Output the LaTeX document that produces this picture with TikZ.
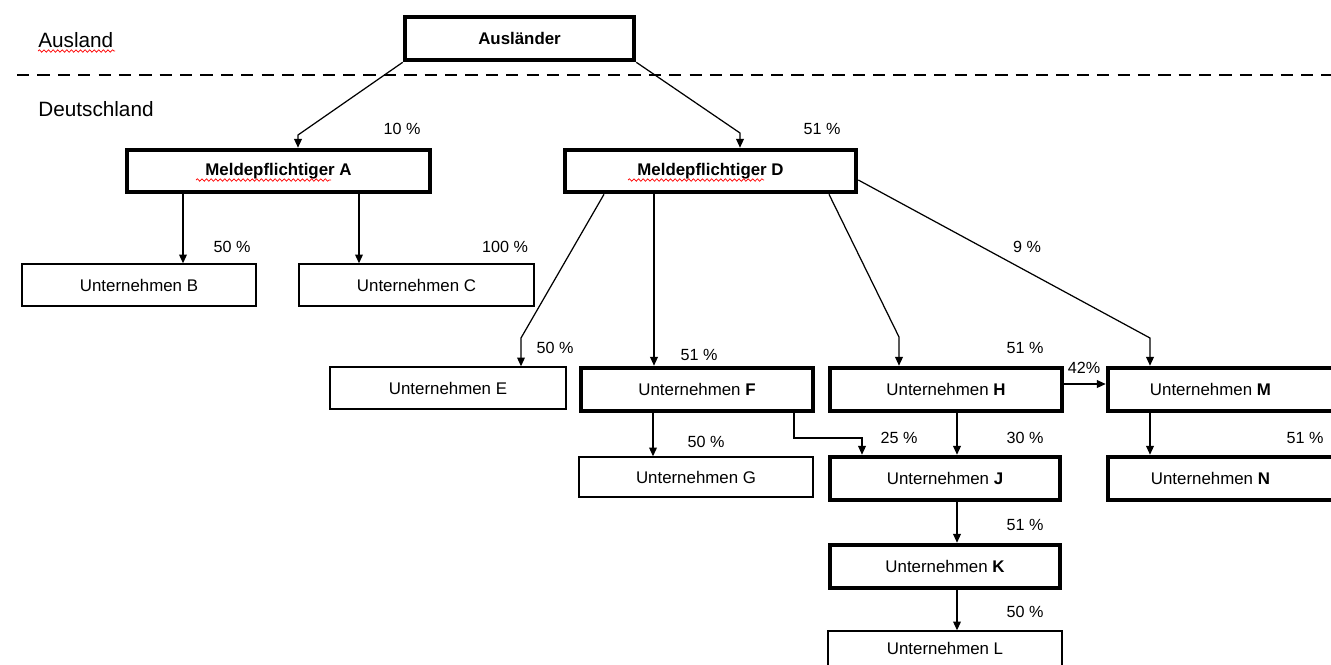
\documentclass[tikz,border=0pt]{standalone}
\usepackage{fontspec}
\setmainfont{Liberation Sans}
\usetikzlibrary{arrows.meta,decorations.pathmorphing}
\begin{document}
\begin{tikzpicture}[x=0.02cm,y=-0.02cm,
  thickbox/.style={draw,line width=2.6pt,rectangle,inner sep=0pt,font=\fontsize{9.6}{11}\selectfont},
  thinbox/.style={draw,line width=0.8pt,rectangle,inner sep=0pt,font=\fontsize{9.6}{11}\selectfont},
  arr/.style={line width=0.7pt,-{Triangle[length=5pt,width=4.4pt]}},
  pct/.style={inner sep=0pt,font=\fontsize{9.2}{11}\selectfont},
  region/.style={inner sep=0pt,anchor=west,font=\fontsize{11.8}{13}\selectfont},
  squig/.style={red,line width=0.4pt,decorate,decoration={snake,amplitude=0.7pt,segment length=2.6pt}}]
\useasboundingbox (0,0) rectangle (1331,664);
\clip (0,0) rectangle (1331,664);
% regions
\node[region] (ausland) at (38,40) {Ausland};
\node[region] (deutsch) at (38,109) {Deutschland};
\draw[line width=1.1pt,dash pattern=on 7pt off 4.6pt] (17,75) -- (1331,75);
\draw[squig] (38,51) -- (115,51);
% boxes
\node[thickbox,minimum width=229*0.02cm,minimum height=43*0.02cm] (Ausl) at (519.5,38.5) {\bfseries Ausländer};
\node[thickbox,minimum width=303*0.02cm,minimum height=42*0.02cm] (MA) at (278.5,171) {\bfseries Meldepflichtiger A};
\node[thickbox,minimum width=291*0.02cm,minimum height=42*0.02cm] (MD) at (710.5,171) {\bfseries Meldepflichtiger D};
\draw[squig] (196,180) -- (331,180);
\draw[squig] (628,180) -- (764,180);
\node[thinbox,minimum width=234*0.02cm,minimum height=42*0.02cm] (B) at (139,285) {Unternehmen B};
\node[thinbox,minimum width=235*0.02cm,minimum height=42*0.02cm] (C) at (416.5,285) {Unternehmen C};
\node[thinbox,minimum width=236*0.02cm,minimum height=42*0.02cm] (E) at (448,388) {Unternehmen E};
\node[thickbox,minimum width=232*0.02cm,minimum height=43*0.02cm] (F) at (697,389.5) {Unternehmen \textbf{F}};
\node[thickbox,minimum width=232*0.02cm,minimum height=43*0.02cm] (H) at (946,389.5) {Unternehmen \textbf{H}};
\node[thickbox,minimum width=240*0.02cm,minimum height=43*0.02cm] (M) at (1228,389.5) {\hspace*{-20pt}Unternehmen \textbf{M}};
\node[thinbox,minimum width=234*0.02cm,minimum height=40*0.02cm] (G) at (696,477) {Unternehmen G};
\node[thickbox,minimum width=230*0.02cm,minimum height=43*0.02cm] (J) at (945,478.5) {Unternehmen \textbf{J}};
\node[thickbox,minimum width=240*0.02cm,minimum height=43*0.02cm] (N) at (1228,478.5) {\hspace*{-20pt}Unternehmen \textbf{N}};
\node[thickbox,minimum width=230*0.02cm,minimum height=43*0.02cm] (K) at (945,566.5) {Unternehmen \textbf{K}};
\node[thinbox,minimum width=234*0.02cm,minimum height=50*0.02cm] (L) at (945,656) {};
\node[inner sep=0pt,font=\fontsize{9.6}{11}\selectfont] (Ltext) at (945,648) {Unternehmen L};
% bend coordinates
\coordinate (cA) at (298,135);
\coordinate (cD) at (740,133);
\coordinate (sE) at (604,0);
\coordinate (cE) at (521,338);
\coordinate (sH) at (829,0);
\coordinate (cH) at (899,337);
\coordinate (sM) at (860,180);
\coordinate (cM) at (1150,338);
\coordinate (xB) at (183,0);
\coordinate (xC) at (359,0);
\coordinate (xF) at (654,0);
\coordinate (xG) at (653,0);
\coordinate (fJ1) at (794,438);
\coordinate (fJ2) at (862,438);
\coordinate (xJ) at (957,0);
\coordinate (yHM) at (0,384);
% connectors
\draw[arr] (Ausl.south west) -- (cA) -- (cA |- MA.north);
\draw[arr] (Ausl.south east) -- (cD) -- (cD |- MD.north);
\draw[arr] (xB |- MA.south) -- (xB |- B.north);
\draw[arr] (xC |- MA.south) -- (xC |- C.north);
\draw[arr] (sE |- MD.south) -- (cE) -- (cE |- E.north);
\draw[arr] (xF |- MD.south) -- (xF |- F.north);
\draw[arr] (sH |- MD.south) -- (cH) -- (cH |- H.north);
\draw[arr] (MD.east |- sM) -- (cM) -- (cM |- M.north);
\draw[arr] (H.east |- yHM) -- (M.west |- yHM);
\draw[arr] (xG |- F.south) -- (xG |- G.north);
\draw[arr] (fJ1 |- F.south) -- (fJ1) -- (fJ2) -- (fJ2 |- J.north);
\draw[arr] (xJ |- H.south) -- (xJ |- J.north);
\draw[arr] (cM |- M.south) -- (cM |- N.north);
\draw[arr] (xJ |- J.south) -- (xJ |- K.north);
\draw[arr] (xJ |- K.south) -- (xJ |- L.north);
% percentages
\node[pct] (p1) at (402,129) {10 \%};
\node[pct] (p2) at (822,129) {51 \%};
\node[pct] (p3) at (232,247) {50 \%};
\node[pct] (p4) at (505,247) {100 \%};
\node[pct] (p5) at (555,348) {50 \%};
\node[pct] (p6) at (699,355) {51 \%};
\node[pct] (p7) at (1025,348) {51 \%};
\node[pct] (p8) at (1027,247) {9 \%};
\node[pct] (p9) at (1084,368) {42\%};
\node[pct] (p10) at (706,442) {50 \%};
\node[pct] (p11) at (899,438) {25 \%};
\node[pct] (p12) at (1025,438) {30 \%};
\node[pct] (p13) at (1305,438) {51 \%};
\node[pct] (p14) at (1025,525) {51 \%};
\node[pct] (p15) at (1025,612) {50 \%};
\end{tikzpicture}
\end{document}
